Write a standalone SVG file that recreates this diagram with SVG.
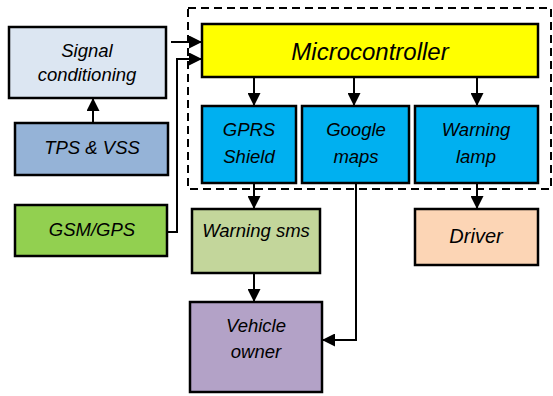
<svg xmlns="http://www.w3.org/2000/svg" width="553" height="396" viewBox="0 0 553 396">
<defs>
<marker id="arr" markerUnits="userSpaceOnUse" markerWidth="13" markerHeight="13" refX="13" refY="6.5" orient="auto">
<path d="M0,0 L13,6.5 L0,13 z" fill="#000"/>
</marker>
<style>
.box{stroke:#000;stroke-width:2.5}
.t{font-family:"Liberation Sans",Arial,sans-serif;font-style:italic;font-size:18.5px;fill:#000;text-anchor:middle}
.c{fill:none;stroke:#000;stroke-width:2}
</style>
</defs>
<rect width="553" height="396" fill="#fff"/>
<rect x="188" y="8" width="363" height="181" fill="none" stroke="#000" stroke-width="2" stroke-dasharray="8,5"/>
<g id="signal"><rect class="box" x="9" y="27" width="157" height="71" fill="#dce6f2"/><text class="t" x="87" y="57">Signal</text><text class="t" x="87" y="81">conditioning</text></g>
<g id="tps"><rect class="box" x="15" y="123" width="153" height="52" fill="#95b3d7"/><text class="t" x="92" y="154">TPS &amp; VSS</text></g>
<g id="gsm"><rect class="box" x="15" y="205" width="152" height="51" fill="#92d050"/><text class="t" x="92" y="236">GSM/GPS</text></g>
<g id="micro"><rect class="box" x="202" y="24" width="336" height="53" fill="#ffff00"/><text class="t" x="370" y="60" style="font-size:24px">Microcontroller</text></g>
<g id="gprs"><rect class="box" x="202" y="106" width="94" height="77" fill="#00b0f0"/><text class="t" x="249" y="136">GPRS</text><text class="t" x="249" y="163">Shield</text></g>
<g id="google"><rect class="box" x="302" y="106" width="107" height="77" fill="#00b0f0"/><text class="t" x="356" y="136">Google</text><text class="t" x="356" y="163">maps</text></g>
<g id="lamp"><rect class="box" x="415" y="106" width="123" height="77" fill="#00b0f0"/><text class="t" x="476" y="136">Warning</text><text class="t" x="476" y="163">lamp</text></g>
<g id="sms"><rect class="box" x="192" y="209" width="128" height="64" fill="#c3d69b"/><text class="t" x="256" y="237">Warning sms</text></g>
<g id="driver"><rect class="box" x="415" y="209" width="123" height="56" fill="#fcd5b5"/><text class="t" x="476" y="243" style="font-size:20px">Driver</text></g>
<g id="owner"><rect class="box" x="190" y="302" width="132" height="90" fill="#b3a2c7"/><text class="t" x="256" y="332">Vehicle</text><text class="t" x="256" y="358">owner</text></g>
<g id="connectors">
<path class="c" d="M93,123 V98" marker-end="url(#arr)"/>
<path class="c" d="M171,42 H202" marker-end="url(#arr)"/>
<path class="c" d="M167,232 H177 V59 H202" marker-end="url(#arr)"/>
<path class="c" d="M254,77 V106" marker-end="url(#arr)"/>
<path class="c" d="M354,77 V106" marker-end="url(#arr)"/>
<path class="c" d="M477,77 V106" marker-end="url(#arr)"/>
<path class="c" d="M254,183 V209" marker-end="url(#arr)"/>
<path class="c" d="M477,183 V209" marker-end="url(#arr)"/>
<path class="c" d="M254,273 V302" marker-end="url(#arr)"/>
<path class="c" d="M356,183 V340 H322" marker-end="url(#arr)"/>
</g>
</svg>
